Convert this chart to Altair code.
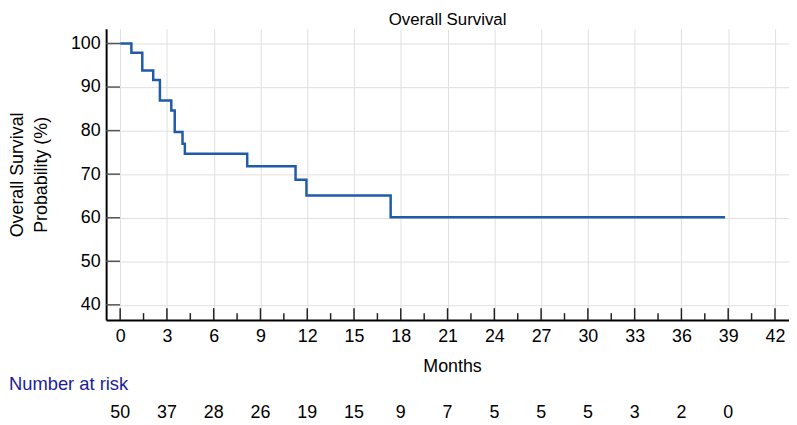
import altair as alt
import pandas as pd

# Kaplan-Meier step curve (months, survival %)
months = [0, 0.72, 1.42, 2.12, 2.55, 3.28, 3.5, 4.0, 4.15, 8.15, 11.25, 11.95, 17.35, 38.8]
surv = [100, 97.9, 93.8, 91.6, 86.9, 84.6, 79.7, 77.0, 74.7, 71.8, 68.7, 65.1, 60.1, 60.1]

# Number at risk table
risk_months = [0, 3, 6, 9, 12, 15, 18, 21, 24, 27, 30, 33, 36, 39]
at_risk = [50, 37, 28, 26, 19, 15, 9, 7, 5, 5, 5, 3, 2, 0]

major_ticks = [0, 3, 6, 9, 12, 15, 18, 21, 24, 27, 30, 33, 36, 39, 42]
minor_ticks = [1.5, 4.5, 7.5, 10.5, 13.5, 16.5, 19.5, 22.5, 25.5, 28.5, 31.5, 34.5, 37.5, 40.5]
y_ticks = [40, 50, 60, 70, 80, 90, 100]

chart_title = ["Overall Survival"]
risk_title = ["Number at risk"]

FONT = "Liberation Sans"
W, H = 689, 294
xs = alt.Scale(domain=[-0.9, 42.9], nice=False, zero=False)
ys = alt.Scale(domain=[36.5, 103.4], nice=False, zero=False)

ax_x = alt.Axis(
    values=major_ticks, title="Months", ticks=False, tickSize=0,
    labelPadding=8, labelFontSize=18, labelFont=FONT, labelColor="#000",
    titleFontSize=18, titleFont=FONT, titleFontWeight="normal", titleColor="#000",
    titleBaseline="alphabetic", titleY=52, titleX=349,
    domainColor="#000", domainWidth=2,
    grid=True, gridColor="#e0e0e0", gridWidth=1, labelFlush=False)
ax_y = alt.Axis(
    values=y_ticks, title=["Overall Survival", "Probability (%)"], ticks=False, tickSize=0,
    labelPadding=6, labelFontSize=18, labelFont=FONT, labelColor="#000",
    titleFontSize=18, titleFont=FONT, titleFontWeight="normal", titleColor="#000",
    titleAngle=270, titleBaseline="top", titleAlign="center",
    titleX=-98, titleY=H / 2, titleLineHeight=24,
    domainColor="#000", domainWidth=2,
    grid=True, gridColor="#e0e0e0", gridWidth=1, labelFlush=False)

km = pd.DataFrame({"m": months, "s": surv})
curve = alt.Chart(km).mark_line(
    interpolate="step-after", color="#1f5ba8", strokeWidth=2.5
).encode(
    x=alt.X("m:Q", scale=xs, axis=ax_x),
    y=alt.Y("s:Q", scale=ys, axis=ax_y),
)

maj = alt.Chart(pd.DataFrame({"m": major_ticks})).mark_rule(color="#222", strokeWidth=1.5).encode(
    x=alt.X("m:Q", scale=xs, axis=ax_x), y=alt.value(H), y2=alt.value(H - 12))
mino = alt.Chart(pd.DataFrame({"m": minor_ticks})).mark_rule(color="#222", strokeWidth=1.5).encode(
    x=alt.X("m:Q", scale=xs, axis=ax_x), y=alt.value(H), y2=alt.value(H - 7))
yt = alt.Chart(pd.DataFrame({"s": y_ticks})).mark_rule(color="#555", strokeWidth=1.5).encode(
    y=alt.Y("s:Q", scale=ys, axis=ax_y), x=alt.value(0), x2=alt.value(14))

risk = alt.Chart(pd.DataFrame({"m": risk_months, "n": at_risk})).mark_text(
    fontSize=18, font=FONT, baseline="middle", align="center", color="#000"
).encode(x=alt.X("m:Q", scale=xs, axis=ax_x), y=alt.value(388), text="n:Q")

risk_label = alt.Chart(pd.DataFrame({"t": risk_title})).mark_text(
    fontSize=18.5, font=FONT, baseline="middle", align="left", color="#1c1c99"
).encode(x=alt.value(-98), y=alt.value(359), text="t:N")

title_mark = alt.Chart(pd.DataFrame({"t": chart_title})).mark_text(
    fontSize=17, font=FONT, baseline="alphabetic", align="center", color="#000"
).encode(x=alt.value(W / 2), y=alt.value(-4), text="t:N")

chart = alt.layer(curve, yt, maj, mino, risk, risk_label, title_mark).properties(
    width=W, height=H,
    autosize=alt.AutoSizeParams(type="none"),
    padding={"left": 99, "top": 19, "right": 0, "bottom": 104},
).configure_view(stroke=None)

chart.save("out.html", embed_options={"renderer": "svg", "actions": False})
